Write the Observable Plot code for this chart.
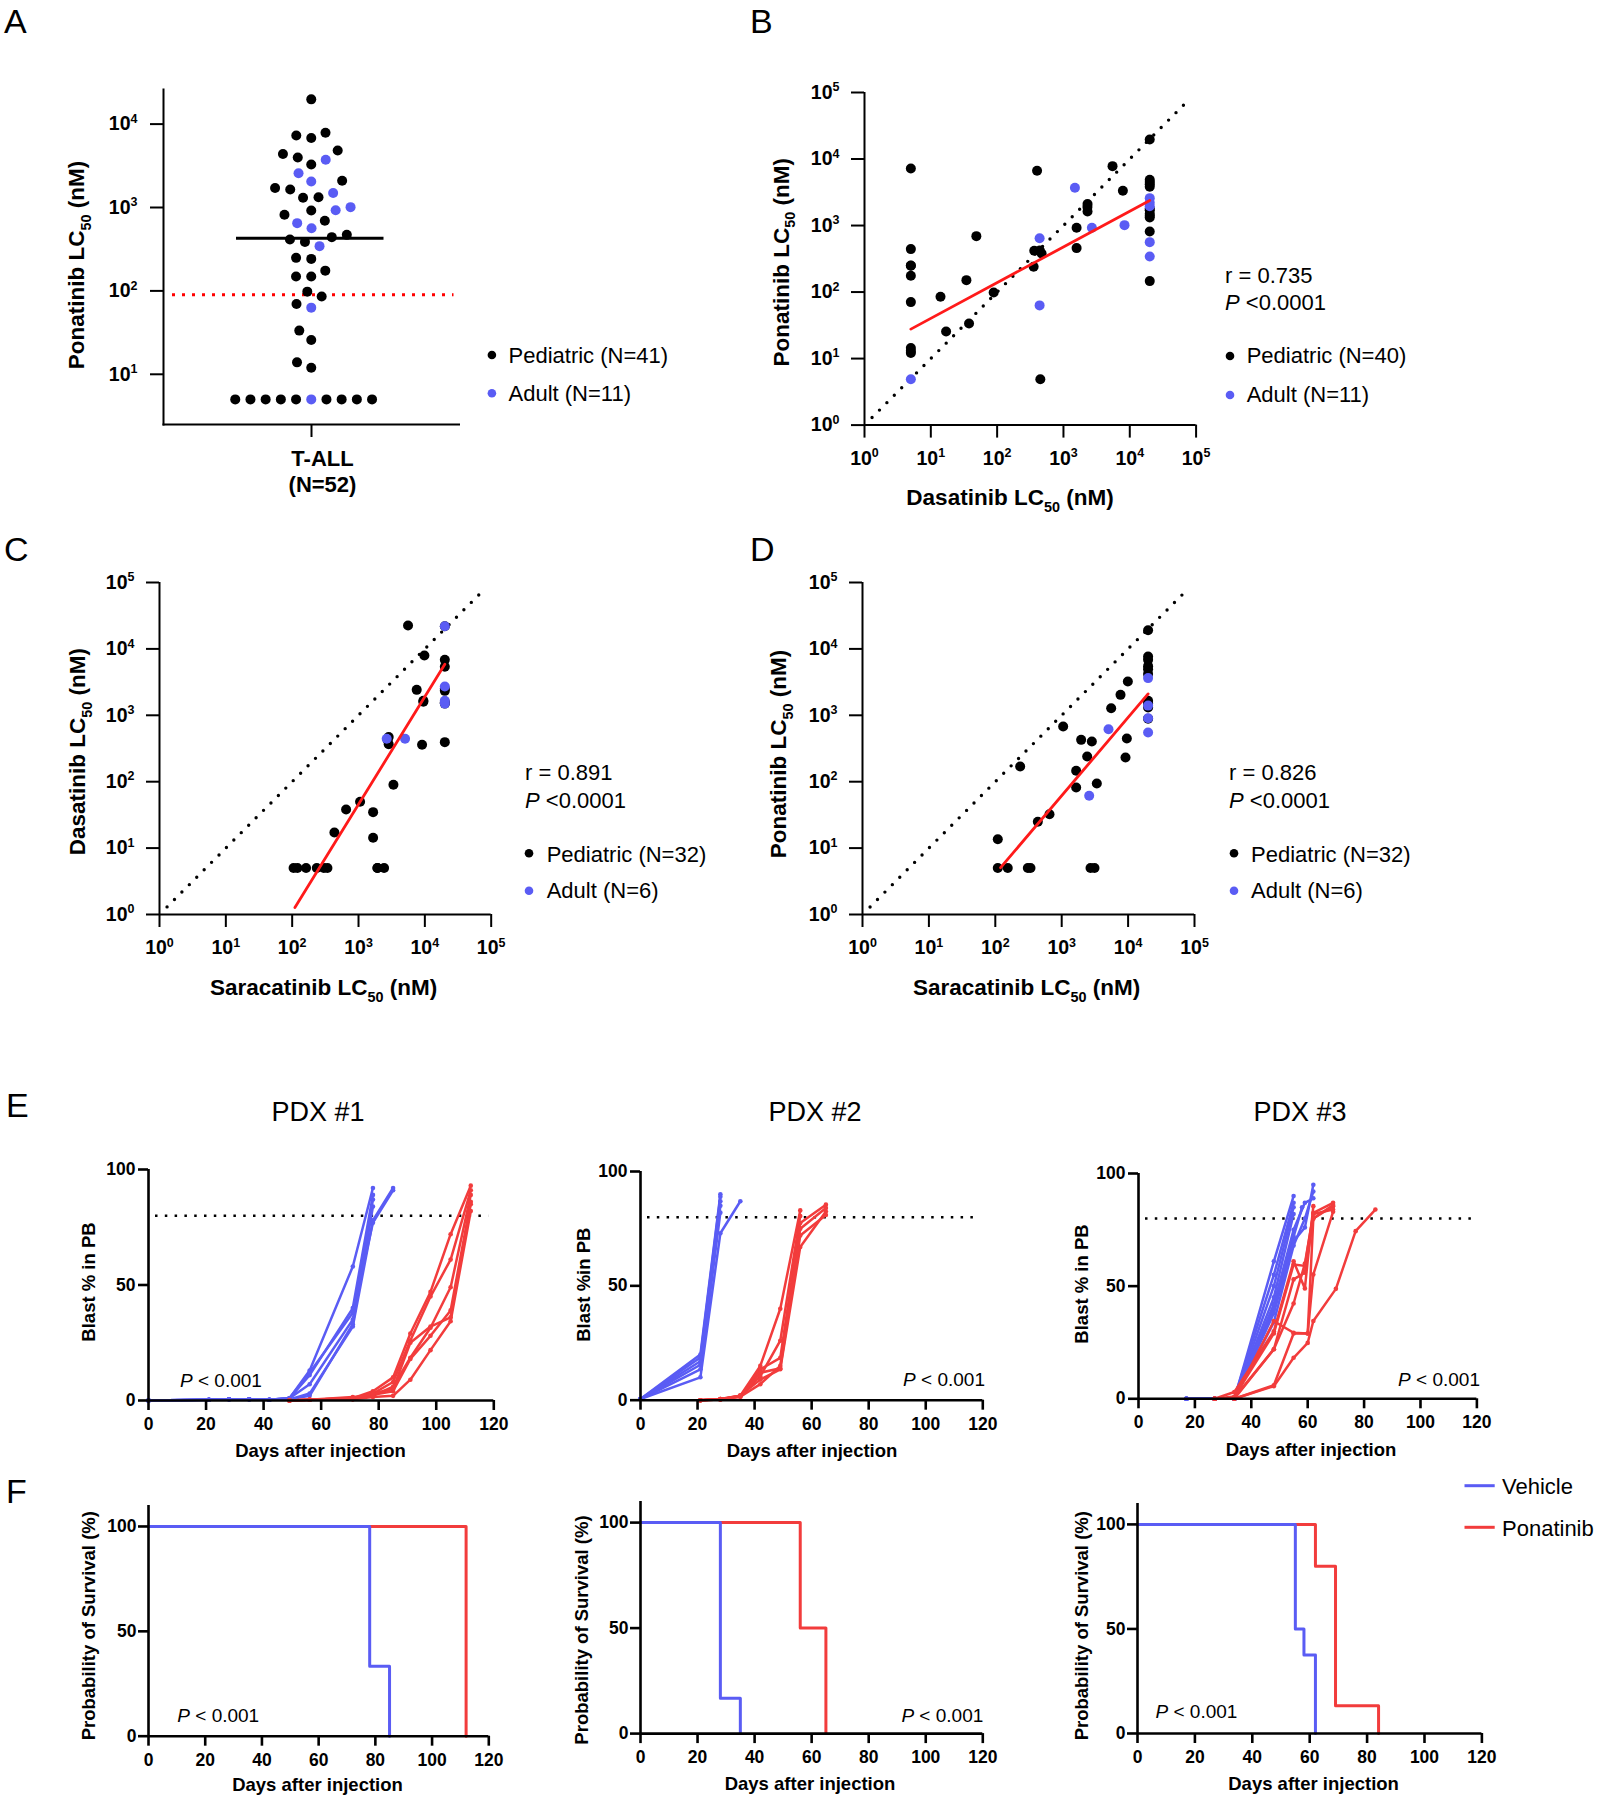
<!DOCTYPE html>
<html><head><meta charset="utf-8">
<script src="https://cdn.jsdelivr.net/npm/d3@7"></script>
<script src="https://cdn.jsdelivr.net/npm/@observablehq/plot@0.6"></script>
<style>
body{margin:0;background:#fff}
#fig{position:relative;width:1601px;height:1800px;background:#fff}
</style></head><body><div id="fig"></div>
<script>
// ---------------- data ----------------
const GROUPS = ["Pediatric", "Adult"];
const aCategory = "T-ALL";
const aPediatric = [19800,7870,7310,6800,4830,4370,3980,3280,2090,1710,1640,1330,1310,920,817,692,441,470,413,387,242,249,175,149,149,98,85.5,69.8,33.4,25.8,13.9,12,5,5,5,5,5,5,5,5,5];
const aAdult = [5,3730,2580,2050,1490,1010,929,649,565,344,63];
const aMedian = 427;
const aThreshold = 90;

const bPedDasatinib = [5,5,5,5,5,5,5,14,17,34.4,37.7,48.6,88.7,355,363,468,400,448,1578,1578,2307,2307,5495,7870,20000,20000,20000,20000,20000,20000,20000,20000,5,440,2300,20000,20000,20000,20000,5];
const bPedPonatinib = [7210,442,248,176,70.6,14.4,12.1,84.9,25.6,151,33.7,693,98.6,240,417,381,6650,4.9,925,458,2099,1626,7816,3326,19700,4870,4190,3820,1700,1320,813,146,13,420,1900,4500,1500,1800,1400,250];
const bAdultDasatinib = [5,437,437,1489,2684,8330,20000,20000,20000,20000,20000];
const bAdultPonatinib = [4.9,646,63,3690,925,1014,2580,1950,563,343,2200];
const bFitX = [5, 20000], bFitY = [27.7, 2380];

const cPedSaracatinib = [5580,9840,20000,20000,20000,20000,7540,9500,2850,2850,9080,20000,3360,1056,650,1660,433,1660,105,120,162,235,300,340,1930,2430,20000,20000,20000,2750,1930,9500];
const cPedDasatinib = [22500,7950,6840,5370,2335,1578,2417,1595,470,367,359,394,89.7,49.8,38.1,34.8,17.2,14.3,5,5,5,5,5,5,5,5,22000,1500,2500,420,5,1650];
const cAdultSaracatinib = [20000,20000,20000,2660,5030,20000];
const cAdultDasatinib = [22000,2715,1500,442,442,1650];
const cFitX = [110, 20000], cFitY = [1.27, 5860];

const dPedSaracatinib = [20000,20000,20000,20000,20000,20000,20000,20000,9910,7690,5560,9570,9140,1052,1963,2844,2421,1651,1651,3380,237,437,655,109,109,154,309,339,2716,3120,20000,20000];
const dPedPonatinib = [19150,7690,6840,4950,4170,1650,1310,890,3230,2032,1280,447,231,678,427,403,240,146,81.8,94,169,24.9,32.4,13.6,5,5,5,5,5,5,5500,1500];
const dAdultSaracatinib = [20000,20000,20000,20000,5070,2594];
const dAdultPonatinib = [3630,1400,905,551,618,61.3];
const dFitX = [120, 20000], dFitY = [5.07, 2100];

const identityLine = [1.3, 80000];
const logTicks = [1,10,100,1000,10000,100000];

const pdx1Vehicle = [
 [[0,0],[21,0.3],[28,0.5],[35,0.5],[42,0.3],[49,1],[56,13],[71,58],[78,92]],
 [[0,0],[21,0.3],[28,0.5],[35,0.5],[42,0.3],[49,1],[56,11],[71,40],[78,89]],
 [[0,0],[21,0.3],[28,0.5],[35,0.5],[42,0.3],[49,1],[56,7],[71,35],[78,87]],
 [[0,0],[21,0.3],[28,0.5],[35,0.5],[42,0.3],[49,0.5],[56,2],[71,33],[78,84]],
 [[0,0],[21,0.3],[28,0.5],[35,0.5],[42,0.3],[49,1],[56,12],[71,38],[78,77],[85,91]],
 [[0,0],[21,0.3],[28,0.5],[35,0.5],[42,0.3],[49,0.5],[56,3],[71,32],[78,78],[85,92]]
];
const pdx1Ponatinib = [
 [[49,0],[56,0.3],[71,1],[78,4],[85,10],[91,29],[98,47],[105,72],[112,93]],
 [[49,0],[56,0.3],[71,1],[78,3],[85,8],[91,26],[98,45],[105,61],[112,91]],
 [[49,0],[56,0.3],[71,1.5],[78,2],[85,6],[91,18.5],[98,31.5],[105,49],[112,89]],
 [[49,0],[56,0.3],[71,0.5],[78,2.5],[85,4],[91,18],[98,28],[105,39],[112,86]],
 [[49,0],[56,0.3],[71,0.5],[78,1.5],[85,2],[91,9],[98,21.8],[105,34.3],[112,82]],
 [[49,0],[56,0.3],[71,1],[78,3],[85,5],[91,25],[98,32],[105,36],[112,85]]
];
const pdx2Vehicle = [
 [[0,0.5],[21,20],[28,90]],
 [[0,0.5],[21,18.7],[28,89]],
 [[0,0.5],[21,17],[28,87]],
 [[0,0.5],[21,15.5],[28,85]],
 [[0,0.5],[21,13.5],[28,82]],
 [[0,0.5],[21,10],[28,73],[35,87]]
];
const pdx2Ponatinib = [
 [[21,0],[28,0.5],[35,2],[42,15],[49,40],[56,83]],
 [[21,0],[28,0.5],[35,2],[42,10.5],[49,26],[56,80.5]],
 [[21,0],[28,0.5],[35,1.5],[42,13.5],[49,18.5],[56,77.5],[65,85.5]],
 [[21,0],[28,0.3],[35,1.5],[42,7],[49,15],[56,75],[65,84]],
 [[21,0],[28,0.3],[35,2],[42,9],[49,13.5],[56,67],[65,82.5]],
 [[21,0],[28,0.3],[35,1.8],[42,12],[49,14],[56,72],[65,81]]
];
const pdx3Vehicle = [
 [[17,0],[27,0],[34,0],[48,61],[55,90]],
 [[17,0],[27,0],[34,0.5],[48,55],[55,87]],
 [[17,0],[27,0],[34,0],[48,50],[55,85]],
 [[17,0],[27,0],[34,0],[48,45],[55,82]],
 [[17,0],[27,0],[34,0],[48,40],[55,72],[58,85]],
 [[17,0],[27,0],[34,0],[48,38],[55,70],[59,76],[62,95]],
 [[17,0],[27,0],[34,0],[48,34],[55,68],[59,80],[62,92]],
 [[17,0],[27,0],[34,0],[48,42],[55,75],[59,87],[62,89]]
];
const pdx3Ponatinib = [
 [[27,0],[34,3],[48,30],[55,61],[59,49],[62,85.5]],
 [[27,0],[34,1],[48,29],[55,59.6],[59,59],[62,82.5],[69,87]],
 [[27,0],[34,0.5],[48,22],[55,53],[59,56],[62,80],[69,85.5]],
 [[27,0],[34,0],[48,22],[55,42.3],[59,60],[62,82],[69,84]],
 [[27,0],[34,0],[48,34.5],[55,29.3],[60,29],[62,55.2],[69,83]],
 [[27,0],[34,0],[48,5.6],[55,18.2],[60,24.8],[62,34.5],[70,48.8],[77,74.4],[84,84]],
 [[27,0],[34,0],[48,6],[55,29],[60,29],[62,80],[69,86]]
];
const endpointBlast = 80;
const dayTicks = [0,20,40,60,80,100,120];

const surv1Vehicle = [[0,100],[78,33.3],[85,0]];
const surv1Ponatinib = [[0,100],[112,0]];
const surv2Vehicle = [[0,100],[28,16.7],[35,0]];
const surv2Ponatinib = [[0,100],[56,50],[65,0]];
const surv3Vehicle = [[0,100],[55,50],[58,37.5],[62,0]];
const surv3Ponatinib = [[0,100],[62,80],[69,13.3],[84,0]];

// ---------------- styling / layout ----------------
const FONT = '"Liberation Sans", Arial, Helvetica, sans-serif';
const BLUE = "#5a5cf4";
const RED = "#f23c3c";
const FITRED = "#ff1a1a";
const GROUP_COLORS = ["#000000", BLUE];
const baseStyle = {fontFamily: FONT, fontWeight: "bold", background: "none", overflow: "visible"};
const fmtPow = d => "10^" + Math.round(Math.log10(d));

const FR = {
  A: {x0:162.6, x1:458.1, y0:89, y1:424},
  B: {x0:863.7, x1:1195.3, y0:91.7, y1:424.3},
  C: {x0:159.3, x1:491, y0:581.7, y1:913.7},
  D: {x0:862.3, x1:1194.3, y0:581.7, y1:913.7},
  E1:{x0:147.7, x1:493, y0:1169, y1:1400},
  E2:{x0:640, x1:982.3, y0:1171.3, y1:1400},
  E3:{x0:1138.3, x1:1476.7, y0:1173, y1:1398.3},
  F1:{x0:147.7, x1:488, y0:1505, y1:1735.7},
  F2:{x0:640, x1:982.3, y0:1501.2, y1:1733.3},
  F3:{x0:1136.5, x1:1480.9, y0:1503.3, y1:1733.3}
};
const fig = document.getElementById("fig");
function dims(fr, m){ return {width: fr.x1-fr.x0+m.l+m.r, height: fr.y1-fr.y0+m.t+m.b, marginLeft:m.l, marginRight:m.r, marginTop:m.t, marginBottom:m.b}; }
function superscripts(svg) {
  svg.querySelectorAll("text").forEach(t => {
    const mm = /^10\^(\d)$/.exec(t.textContent);
    if (mm && t.children.length === 0) {
      t.textContent = "10";
      const ts = document.createElementNS("http://www.w3.org/2000/svg", "tspan");
      ts.setAttribute("font-size", "0.64em");
      ts.setAttribute("dy", "-0.6em");
      ts.textContent = mm[1];
      t.appendChild(ts);
    }
  });
}
function mount(svg, fr, m){
  superscripts(svg);
  svg.style.position="absolute"; svg.style.left=(fr.x0-m.l)+"px"; svg.style.top=(fr.y0-m.t)+"px"; fig.appendChild(svg);
}

// ---------------- Panel A ----------------
{
  const rows = [...aPediatric.map(v => ({group:"Pediatric", value:v})), ...aAdult.map(v => ({group:"Adult", value:v}))]
    .sort((a,b) => (a.value - b.value) || (a.group === "Adult" ? -1 : b.group === "Adult" ? 1 : 0));
  const m = {l:90, r:10, t:10, b:40};
  const svg = Plot.plot({
    ...dims(FR.A, m), style: baseStyle,
    x: {type:"point", domain:[aCategory]},
    y: {type:"log", domain:[2.5, 26000]},
    color: {domain: GROUPS, range: GROUP_COLORS},
    marks: [
      Plot.frame({anchor:"left", strokeWidth:2}),
      Plot.frame({anchor:"bottom", strokeWidth:2}),
      Plot.ruleY([aThreshold], {stroke:"#ff0000", strokeWidth:3, strokeDasharray:"3 7", insetLeft:9, insetRight:5}),
      Plot.dot(rows, Plot.dodgeX({anchor:"middle", padding:5.2}, {y:"value", r:5, fill:"group"})),
      Plot.ruleY([aMedian], {strokeWidth:3, insetLeft:73, insetRight:75}),
      Plot.axisY({ticks:[10,100,1000,10000], tickFormat: fmtPow, tickSize:13, tickPadding:13, fontSize:19.5, strokeWidth:2, label:null}),
      Plot.axisX({tickSize:13, tickFormat: () => "", strokeWidth:2, label:null})
    ]
  });
  mount(svg, FR.A, m);
}

// ---------------- Panels B, C, D ----------------
function scatterPanel(fr, pedX, pedY, adX, adY, fitX, fitY) {
  const pts = [...pedX.map((x,i) => ({x, y:pedY[i], group:"Pediatric"})), ...adX.map((x,i) => ({x, y:adY[i], group:"Adult"}))];
  const m = {l:90, r:12, t:12, b:52};
  const svg = Plot.plot({
    ...dims(fr, m), style: baseStyle,
    x: {type:"log", domain:[1,1e5]},
    y: {type:"log", domain:[1,1e5]},
    color: {domain: GROUPS, range: GROUP_COLORS},
    marks: [
      Plot.line(identityLine, {x: d => d, y: d => d, stroke:"#000", strokeWidth:3.4, strokeDasharray:"0 10.5", strokeLinecap:"round"}),
      Plot.dot(pts, {x:"x", y:"y", r:5, fill:"group"}),
      Plot.line(fitX, {x: d => d, y: (d,i) => fitY[i], stroke: FITRED, strokeWidth:2.8}),
      Plot.ruleX([1], {strokeWidth:2}),
      Plot.ruleY([1], {strokeWidth:2}),
      Plot.axisY({ticks: logTicks, tickFormat: fmtPow, tickSize:13, tickPadding:12, fontSize:19.5, strokeWidth:2, label:null}),
      Plot.axisX({ticks: logTicks, tickFormat: fmtPow, tickSize:13, tickPadding:13, fontSize:19.5, strokeWidth:2, label:null})
    ]
  });
  mount(svg, fr, m);
}
scatterPanel(FR.B, bPedDasatinib, bPedPonatinib, bAdultDasatinib, bAdultPonatinib, bFitX, bFitY);
scatterPanel(FR.C, cPedSaracatinib, cPedDasatinib, cAdultSaracatinib, cAdultDasatinib, cFitX, cFitY);
scatterPanel(FR.D, dPedSaracatinib, dPedPonatinib, dAdultSaracatinib, dAdultPonatinib, dFitX, dFitY);

// ---------------- Panels E ----------------
function blastPanel(fr, vehicle, ponatinib) {
  const rows = [];
  vehicle.forEach((mouse, i) => mouse.forEach(([day, blast]) => rows.push({id:"V"+i, arm:"Vehicle", day, blast})));
  ponatinib.forEach((mouse, i) => mouse.forEach(([day, blast]) => rows.push({id:"P"+i, arm:"Ponatinib", day, blast})));
  const veh = rows.filter(d => d.arm === "Vehicle"), pon = rows.filter(d => d.arm === "Ponatinib");
  const m = {l:60, r:12, t:10, b:40};
  const svg = Plot.plot({
    ...dims(fr, m), style: baseStyle,
    x: {domain:[0,120]}, y: {domain:[0,100]},
    marks: [
      Plot.ruleY([endpointBlast], {strokeWidth:2.5, strokeDasharray:"2.5 7.3", insetLeft:7, insetRight:5}),
      Plot.line(veh, {x:"day", y:"blast", z:"id", stroke: BLUE, strokeWidth:2.5}),
      Plot.dot(veh, {x:"day", y:"blast", r:2.3, fill: BLUE}),
      Plot.line(pon, {x:"day", y:"blast", z:"id", stroke: RED, strokeWidth:2.5}),
      Plot.dot(pon, {x:"day", y:"blast", r:2.3, fill: RED}),
      Plot.ruleX([0], {strokeWidth:2.6}),
      Plot.ruleY([0], {strokeWidth:2.6}),
      Plot.axisY({ticks:[0,50,100], tickSize:10, tickPadding:3, fontSize:17.5, strokeWidth:2.6, label:null}),
      Plot.axisX({ticks: dayTicks, tickSize:10, tickPadding:7, fontSize:17.5, strokeWidth:2.6, label:null})
    ]
  });
  mount(svg, fr, m);
}
blastPanel(FR.E1, pdx1Vehicle, pdx1Ponatinib);
blastPanel(FR.E2, pdx2Vehicle, pdx2Ponatinib);
blastPanel(FR.E3, pdx3Vehicle, pdx3Ponatinib);

// ---------------- Panels F ----------------
function survivalPanel(fr, vehicle, ponatinib) {
  const m = {l:60, r:12, t:10, b:40};
  const svg = Plot.plot({
    ...dims(fr, m), style: baseStyle,
    x: {domain:[0,120]}, y: {domain:[0,110]},
    marks: [
      Plot.line(ponatinib, {x: d => d[0], y: d => d[1], curve:"step-after", stroke: RED, strokeWidth:3}),
      Plot.line(vehicle, {x: d => d[0], y: d => d[1], curve:"step-after", stroke: BLUE, strokeWidth:3}),
      Plot.ruleX([0], {strokeWidth:2.6}),
      Plot.ruleY([0], {strokeWidth:2.6}),
      Plot.axisY({ticks:[0,50,100], tickSize:10, tickPadding:2, fontSize:17.5, strokeWidth:2.6, label:null}),
      Plot.axisX({ticks: dayTicks, tickSize:10, tickPadding:7, fontSize:17.5, strokeWidth:2.6, label:null})
    ]
  });
  mount(svg, fr, m);
}
survivalPanel(FR.F1, surv1Vehicle, surv1Ponatinib);
survivalPanel(FR.F2, surv2Vehicle, surv2Ponatinib);
survivalPanel(FR.F3, surv3Vehicle, surv3Ponatinib);

// ---------------- text overlay ----------------
const ov = d3.select(fig).append("svg").attr("width",1601).attr("height",1800)
  .style("position","absolute").style("left","0px").style("top","0px").attr("font-family", FONT);
function rich(t, s, size) {
  let pending = 0;
  s.split(/(\*[^*]+\*|_\{[^}]+\})/g).forEach(part => {
    if (!part) return;
    if (part.startsWith("_{")) {
      const sh = 0.3 * size;
      t.append("tspan").attr("font-size", size * 0.64).attr("dy", sh).text(part.slice(2,-1));
      pending = sh; return;
    }
    const italic = part.startsWith("*");
    const ts = t.append("tspan").text(italic ? part.slice(1,-1) : part);
    if (italic) ts.attr("font-style","italic");
    if (pending) { ts.attr("dy", -pending); pending = 0; }
  });
}
function T(x, y, s, o = {}) {
  const size = o.size ?? 20;
  const t = ov.append("text").attr("font-size", size).attr("font-weight", o.bold ? "bold" : "normal")
    .attr("text-anchor", o.anchor ?? "start").attr("fill","#000");
  if (o.rotate) t.attr("transform", `translate(${x},${y}) rotate(-90)`); else t.attr("x", x).attr("y", y);
  rich(t, s, size);
}
function bullet(x, y, color) { ov.append("circle").attr("cx", x).attr("cy", y).attr("r", 4.3).attr("fill", color); }

// panel letters
[["A",4,32.5],["B",750,33],["C",4,561],["D",750,561],["E",6,1117],["F",6,1503]].forEach(([s,x,y]) => T(x, y, s, {size:34}));

// A
T(83.8, 265, "Ponatinib LC_{50} (nM)", {size:22.5, bold:true, rotate:true, anchor:"middle"});
T(322.5, 466, "T-ALL", {size:22, bold:true, anchor:"middle"});
T(322.5, 492, "(N=52)", {size:22, bold:true, anchor:"middle"});
bullet(491.9, 355, "#000"); T(508.5, 362.5, "Pediatric (N=41)", {size:22});
bullet(491.9, 393.3, BLUE); T(508.5, 401, "Adult (N=11)", {size:22});

// B
T(788.7, 262.3, "Ponatinib LC_{50} (nM)", {size:22.5, bold:true, rotate:true, anchor:"middle"});
T(1010, 505, "Dasatinib LC_{50} (nM)", {size:22.5, bold:true, anchor:"middle"});
T(1225, 283.3, "r = 0.735", {size:22});
T(1225, 310, "*P* <0.0001", {size:22});
bullet(1230, 356, "#000"); T(1246.7, 363.3, "Pediatric (N=40)", {size:22});
bullet(1230, 395, BLUE); T(1246.7, 401.7, "Adult (N=11)", {size:22});

// C
T(85, 751.7, "Dasatinib LC_{50} (nM)", {size:22.5, bold:true, rotate:true, anchor:"middle"});
T(323.7, 995, "Saracatinib LC_{50} (nM)", {size:22.5, bold:true, anchor:"middle"});
T(525, 780, "r = 0.891", {size:22});
T(525, 808, "*P* <0.0001", {size:22});
bullet(529, 853.3, "#000"); T(546.7, 861.7, "Pediatric (N=32)", {size:22});
bullet(529, 890.7, BLUE); T(546.7, 898, "Adult (N=6)", {size:22});

// D
T(786.3, 754, "Ponatinib LC_{50} (nM)", {size:22.5, bold:true, rotate:true, anchor:"middle"});
T(1026.7, 995, "Saracatinib LC_{50} (nM)", {size:22.5, bold:true, anchor:"middle"});
T(1229, 780, "r = 0.826", {size:22});
T(1229, 808, "*P* <0.0001", {size:22});
bullet(1234, 853.3, "#000"); T(1251, 861.7, "Pediatric (N=32)", {size:22});
bullet(1234, 890.7, BLUE); T(1251, 898, "Adult (N=6)", {size:22});

// E
T(318, 1121, "PDX #1", {size:27, anchor:"middle"});
T(815, 1121, "PDX #2", {size:27, anchor:"middle"});
T(1300, 1121, "PDX #3", {size:27, anchor:"middle"});
T(95, 1282, "Blast % in PB", {size:18.5, bold:true, rotate:true, anchor:"middle"});
T(590, 1284.7, "Blast %in PB", {size:18.5, bold:true, rotate:true, anchor:"middle"});
T(1088.3, 1284, "Blast % in PB", {size:18.5, bold:true, rotate:true, anchor:"middle"});
T(320.5, 1456.7, "Days after injection", {size:18.5, bold:true, anchor:"middle"});
T(812, 1456.7, "Days after injection", {size:18.5, bold:true, anchor:"middle"});
T(1311, 1455.7, "Days after injection", {size:18.5, bold:true, anchor:"middle"});
T(180, 1387.3, "*P* < 0.001", {size:19});
T(985, 1386.3, "*P* < 0.001", {size:19, anchor:"end"});
T(1480, 1386, "*P* < 0.001", {size:19, anchor:"end"});

// F
T(95, 1625.7, "Probability of Survival (%)", {size:18.5, bold:true, rotate:true, anchor:"middle"});
T(588.3, 1630, "Probability of Survival (%)", {size:18.5, bold:true, rotate:true, anchor:"middle"});
T(1088.2, 1625.7, "Probability of Survival (%)", {size:18.5, bold:true, rotate:true, anchor:"middle"});
T(317.5, 1790.7, "Days after injection", {size:18.5, bold:true, anchor:"middle"});
T(810, 1790, "Days after injection", {size:18.5, bold:true, anchor:"middle"});
T(1313.6, 1790, "Days after injection", {size:18.5, bold:true, anchor:"middle"});
T(177.3, 1722.3, "*P* < 0.001", {size:19});
T(983.3, 1722.3, "*P* < 0.001", {size:19, anchor:"end"});
T(1155.5, 1718.3, "*P* < 0.001", {size:19});
ov.append("line").attr("x1",1464.5).attr("x2",1494.7).attr("y1",1485.7).attr("y2",1485.7).attr("stroke",BLUE).attr("stroke-width",3);
T(1502, 1494, "Vehicle", {size:22});
ov.append("line").attr("x1",1464.5).attr("x2",1494.7).attr("y1",1527.3).attr("y2",1527.3).attr("stroke",RED).attr("stroke-width",3);
T(1502, 1535.7, "Ponatinib", {size:22});
</script></body></html>
